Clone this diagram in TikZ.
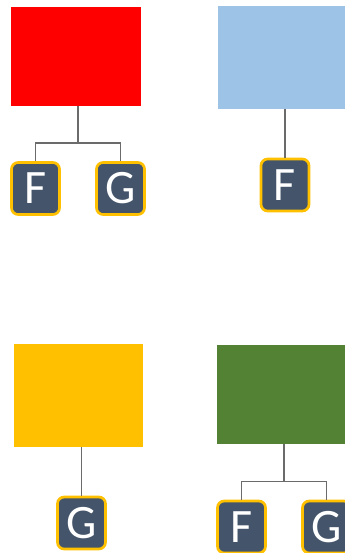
\documentclass[tikz,border=0pt]{standalone}
\usepackage{fontspec}
\setmainfont{Carlito}
\usetikzlibrary{calc}
\definecolor{slate}{HTML}{44546A}
\definecolor{gold}{HTML}{FFC000}
\definecolor{skyblue}{HTML}{9DC3E6}
\definecolor{leafgreen}{HTML}{548235}
\definecolor{wire}{HTML}{6B6B6B}
\tikzset{
	block/.style={inner sep=0pt, minimum width=#1},
	leaf/.style={draw=gold, fill=slate, line width=2pt, rounded corners=5pt,
		minimum width=36pt, minimum height=39pt, inner sep=0pt,
		text=white, font=\fontsize{36}{36}\selectfont},
	link/.style={draw=wire, line width=1.1pt}
}
\begin{document}
\begin{tikzpicture}[x=0.75pt, y=-0.75pt]
		\useasboundingbox (0,0) rectangle (345,553);
		
		% top left
		\node [block=97.5pt, minimum height=74.25pt, fill=red] (red) at (76,56.5) {};
		\node [leaf] (f1) at (35.5,188.5) {F};
		\node [leaf] (g1) at (120.5,188.5) {G};
		\coordinate (fork1) at ($(f1.north)!0.5!(g1.north)+(0,-18)$);
		\draw [link] (fork1) -- (fork1 |- red.south);
		\draw [link] (f1.north) |- (fork1) -| (g1.north);
		
		% top right
		\node [block=99pt, minimum height=77.25pt, fill=skyblue] (blue) at (284,57.5) {};
		\node [leaf] (f2) at (285,185) {F};
		\draw [link] (f2.north) -- (f2.north |- blue.south);
		
		% bottom left
		\node [block=96.75pt, minimum height=77.25pt, fill=gold] (yellow) at (78.5,395.5) {};
		\node [leaf] (g3) at (81.5,523) {G};
		\draw [link] (g3.north) -- (g3.north |- yellow.south);
		
		% bottom right
		\node [block=100.5pt, minimum height=74.25pt, fill=leafgreen] (green) at (284,394.5) {};
		\node [leaf] (f4) at (241.5,527) {F};
		\node [leaf] (g4) at (326.5,527) {G};
		\coordinate (fork4) at ($(f4.north)!0.5!(g4.north)+(0,-18)$);
		\draw [link] (fork4) -- (fork4 |- green.south);
		\draw [link] (f4.north) |- (fork4) -| (g4.north);
	\end{tikzpicture}
\end{document}
